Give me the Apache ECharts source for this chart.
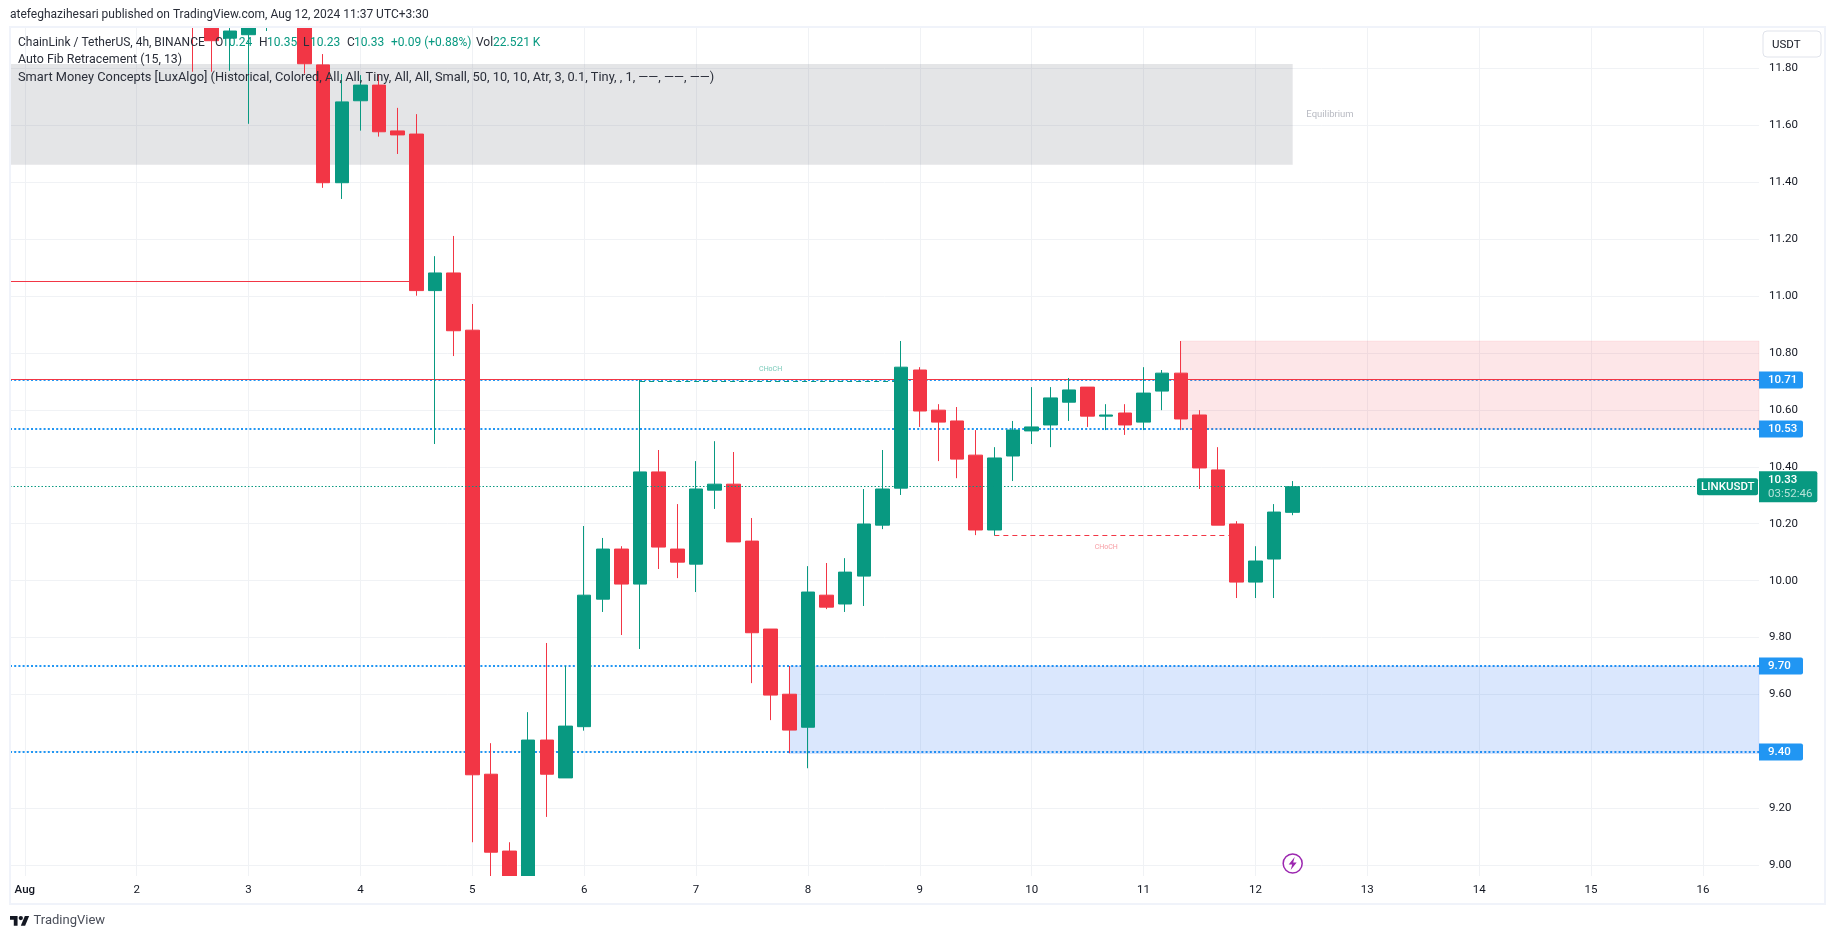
<!DOCTYPE html>
<html>
<head>
<meta charset="utf-8">
<title>LINKUSDT 4h</title>
<style>
  html, body { margin: 0; padding: 0; background: #fff; }
  #chart { width: 1835px; height: 939px; }
</style>
<script src="https://cdn.jsdelivr.net/npm/echarts@6/dist/echarts.min.js"></script>
</head>
<body>
<div id="chart"></div>
<script>
// one bar every 4h, index 0 is Aug 1 00:00, first bars here start at index 9
const firstBar = 9;
const opens = [12.25, 12.05, 11.906, 11.918, 12.0, 12.1, 12.2, 11.812, 11.398, 11.686, 11.741, 11.58, 11.569, 11.019, 11.081, 10.88,
  9.32, 9.05, 8.9, 9.44, 9.307, 9.487, 9.935, 10.111, 9.988, 10.382, 10.111, 10.058, 10.318, 10.339, 10.139, 9.83, 9.601, 9.485,
  9.949, 9.918, 10.016, 10.195, 10.325, 10.74, 10.599, 10.561, 10.441, 10.178, 10.438, 10.526, 10.547, 10.627, 10.68, 10.578,
  10.589, 10.557, 10.666, 10.729, 10.582, 10.389, 10.199, 9.995, 10.076, 10.24];
const closes = [12.05, 11.897, 11.931, 12.0, 12.1, 12.0, 11.816, 11.398, 11.682, 11.741, 11.577, 11.566, 11.019, 11.081, 10.878, 9.318,
  9.046, 8.9, 9.44, 9.32, 9.489, 9.949, 10.111, 9.988, 10.382, 10.118, 10.065, 10.322, 10.339, 10.136, 9.817, 9.598, 9.475, 9.96,
  9.907, 10.03, 10.199, 10.322, 10.75, 10.596, 10.557, 10.427, 10.178, 10.431, 10.529, 10.54, 10.642, 10.67, 10.578, 10.582,
  10.547, 10.659, 10.729, 10.568, 10.396, 10.195, 9.995, 10.069, 10.241, 10.33];
const lows = [11.788, 11.788, 11.791, 11.605, 11.931, 11.96, 11.781, 11.38, 11.341, 11.581, 11.56, 11.499, 11.001, 10.48, 10.789, 9.081,
  8.9, 8.89, 8.89, 9.17, 9.307, 9.473, 9.89, 9.809, 9.76, 10.041, 10.009, 9.96, 10.252, 10.136, 9.64, 9.51, 9.394, 9.341,
  9.9, 9.89, 9.911, 10.181, 10.301, 10.54, 10.42, 10.36, 10.16, 10.159, 10.35, 10.48, 10.469, 10.561, 10.54, 10.529,
  10.512, 10.529, 10.599, 10.529, 10.322, 10.195, 9.939, 9.939, 9.939, 10.23];
const highs = [12.3, 12.1, 12.0, 12.1, 12.2, 12.2, 12.3, 11.85, 11.78, 11.776, 11.78, 11.661, 11.639, 11.14, 11.211, 10.972,
  9.429, 9.081, 9.538, 9.781, 9.7, 10.192, 10.15, 10.121, 10.705, 10.459, 10.269, 10.42, 10.49, 10.452, 10.22, 9.83, 9.7, 10.051,
  10.062, 10.079, 10.322, 10.459, 10.842, 10.75, 10.62, 10.61, 10.529, 10.469, 10.561, 10.68, 10.68, 10.712, 10.68, 10.62,
  10.62, 10.75, 10.74, 10.842, 10.599, 10.469, 10.209, 10.121, 10.269, 10.35];

const dayTicks = [0, 6, 12, 18, 24, 30, 36, 42, 48, 54, 60, 66, 72, 78, 84, 90];
const dayLabels = ['Aug', '2', '3', '4', '5', '6', '7', '8', '9', '10', '11', '12', '13', '14', '15', '16'];
const priceTicks = [9.0, 9.2, 9.4, 9.6, 9.8, 10.0, 10.2, 10.4, 10.6, 10.8, 11.0, 11.2, 11.4, 11.6, 11.8];
const blueLevels = [10.705, 10.533, 9.7, 9.398];
const blueTags = ['10.71', '10.53', '9.70', '9.40'];
const lastClose = 10.33;

const xMin = -0.794, xMax = 93.01;
const yMin = 8.9624, yMax = 11.9416;
const GREEN = '#089981', RED = '#f23645', BLUE = '#2196f3', TEXT = '#131722';
const FONT = 'Roboto, sans-serif';

let candles = opens.map((o, i) => [firstBar + i, o, closes[i], lows[i], highs[i]]);

function blueLines() {
  return blueLevels.map((p, i) => [
    {
      coord: [xMin, p],
      label: {
        show: true, position: 'end', distance: 0, formatter: blueTags[i],
        backgroundColor: BLUE, color: '#fff', fontFamily: FONT, fontSize: 11.5, fontWeight: 500,
        padding: [3, 5, 2, 9], borderRadius: [0, 2, 2, 0], align: 'left', width: 30
      }
    },
    { coord: [xMax, p] }
  ]);
}

function hline(x1, x2, p, color, type) {
  return [{ coord: [x1, p], lineStyle: { color: color, width: 1, type: type } }, { coord: [x2, p] }];
}

function emptyLine(extra) {
  return Object.assign({ type: 'line', data: [], silent: true, animation: false }, extra);
}

let option = {
  animation: false,
  backgroundColor: '#fff',
  grid: { left: 10, right: 76, top: 28, bottom: 63 },
  xAxis: [
    {
      // gridlines only
      type: 'value', min: xMin, max: xMax, z: 0,
      axisLine: { show: false },
      axisTick: { show: false, customValues: dayTicks },
      splitLine: { show: true, lineStyle: { color: '#f0f2f5', width: 1 } },
      axisLabel: { show: false }
    },
    {
      // labels, above the strip that hides candle overflow
      type: 'value', min: xMin, max: xMax, z: 12, position: 'bottom',
      axisLine: { show: false },
      axisTick: { show: false, customValues: dayTicks },
      splitLine: { show: false },
      axisLabel: {
        customValues: dayTicks, margin: 8, color: TEXT, fontFamily: FONT, fontSize: 11.5,
        formatter: v => (v === 0 ? '{b|Aug}' : dayLabels[dayTicks.indexOf(v)]),
        rich: { b: { color: TEXT, fontFamily: FONT, fontSize: 11.5, fontWeight: 500 } }
      }
    }
  ],
  yAxis: {
    type: 'value', position: 'right', min: yMin, max: yMax, scale: true,
    axisLine: { show: false },
    axisTick: { show: false, customValues: priceTicks },
    splitLine: { show: true, lineStyle: { color: '#f0f2f5', width: 1 } },
    axisLabel: {
      customValues: priceTicks, margin: 10, color: TEXT, fontFamily: FONT, fontSize: 11.5,
      padding: [2, 0, 0, 0],
      formatter: v => v.toFixed(2)
    }
  },
  series: [
    // dotted levels and red lines, below the boxes
    emptyLine({
      z: 1,
      markLine: {
        z: 1, silent: true, symbol: 'none', animation: false,
        lineStyle: { color: BLUE, width: 2, type: [2, 2.2] },
        label: { show: false },
        data: blueLines().concat([
          hline(xMin, xMax, 10.708, RED, 'solid'),
          hline(xMin, 21, 11.052, RED, 'solid'),
          hline(33, 47, 10.701, GREEN, [5, 4]),
          hline(52, 65, 10.159, RED, [5, 4])
        ])
      }
    }),
    emptyLine({
      z: 2,
      markArea: {
        z: 2, silent: true, animation: false,
        data: [
          [{ coord: [xMin, 11.815], itemStyle: { color: 'rgba(120,123,134,0.2)' } }, { coord: [68, 11.461] }],
          [{ coord: [62, 10.842], itemStyle: { color: 'rgba(242,54,69,0.125)', borderColor: 'rgba(242,54,69,0.08)', borderWidth: 1 } }, { coord: [xMax, 10.532] }],
          [{ coord: [41, 9.7], itemStyle: { color: 'rgba(33,110,243,0.17)', borderColor: 'rgba(33,110,243,0.12)', borderWidth: 1 } }, { coord: [xMax, 9.393] }]
        ]
      }
    }),
    {
      type: 'candlestick', z: 3, barWidth: 14, clip: true, silent: true,
      encode: { x: 0, y: [1, 2, 3, 4] },
      itemStyle: { color: GREEN, color0: RED, borderColor: GREEN, borderColor0: RED, borderWidth: 1 },
      data: candles
    },
    // last price line sits over the candles
    emptyLine({
      z: 4,
      markLine: {
        z: 4, silent: true, symbol: 'none', animation: false,
        lineStyle: { color: GREEN, width: 1, type: [1.5, 2] },
        label: { show: false },
        data: [[
          {
            coord: [xMin, lastClose],
            label: {
              show: true, position: 'end', distance: 0,
              formatter: '{a|10.33}\n{b|03:52:46}',
              backgroundColor: GREEN, padding: [2, 5, 1, 9], borderRadius: [0, 2, 2, 0], align: 'left',
              rich: {
                a: { color: '#fff', fontFamily: FONT, fontSize: 11.5, fontWeight: 500, lineHeight: 14 },
                b: { color: '#b5e3d9', fontFamily: FONT, fontSize: 11.5, lineHeight: 14 }
              }
            }
          },
          { coord: [xMax, lastClose] }
        ]]
      }
    }),
    // small texts pinned to the price scale
    {
      type: 'scatter', z: 5, symbolSize: 0, silent: true,
      data: [
        { value: [40, 10.742], label: { formatter: 'CHoCH', color: '#52bba6' } },
        { value: [58, 10.117], label: { formatter: 'CHoCH', color: '#f5838c' } },
        { value: [70, 11.636], label: { formatter: 'Equilibrium', color: '#a6a9b3', fontSize: 9.5 } }
      ],
      label: { show: true, position: 'inside', fontFamily: FONT, fontSize: 7 }
    }
  ]
};

let chart = echarts.init(document.getElementById('chart'));
chart.setOption(option);

function txt(x, y, str, fill, size, extra) {
  return {
    type: 'text', z: 20,
    style: Object.assign({ x: x, y: y, text: str, fill: fill, font: (size || 12) + 'px ' + FONT, textVerticalAlign: 'middle' }, extra || {})
  };
}

// tags and chrome around the plot
let lastY = chart.convertToPixel({ yAxisIndex: 0 }, lastClose);
let boltX = chart.convertToPixel({ xAxisIndex: 0 }, 68);
let dark = '#2a2e39';
const logoScale = 0.54;
chart.setOption({
  graphic: [
    // candlesticks only drop fully clipped bars, so cover what pokes out of the pane
    { type: 'rect', z: 8, shape: { x: 0, y: 0, width: 1835, height: 27 }, style: { fill: '#fff' } },
    { type: 'rect', z: 8, shape: { x: 11, y: 876, width: 1748, height: 27 }, style: { fill: '#fff' } },
    { type: 'rect', z: 10, shape: { x: 10, y: 27, width: 1815, height: 877 }, style: { fill: 'none', stroke: '#f0f3fa', lineWidth: 2 } },
    txt(10, 15, 'atefeghazihesari published on TradingView.com, Aug 12, 2024 11:37 UTC+3:30', dark, 12),
    txt(18, 42.5, 'ChainLink / TetherUS, 4h, BINANCE', dark),
    txt(215, 42.5, 'O', dark), txt(222, 42.5, '10.24', GREEN),
    txt(259, 42.5, 'H', dark), txt(267, 42.5, '10.35', GREEN),
    txt(303, 42.5, 'L', dark), txt(310, 42.5, '10.23', GREEN),
    txt(347, 42.5, 'C', dark), txt(354, 42.5, '10.33', GREEN),
    txt(391, 42.5, '+0.09 (+0.88%)', GREEN),
    txt(476, 42.5, 'Vol', dark), txt(493, 42.5, '22.521 K', GREEN),
    txt(18, 60, 'Auto Fib Retracement (15, 13)', dark, 12.4),
    txt(18, 77.5, 'Smart Money Concepts [LuxAlgo] (Historical, Colored, All, All, Tiny, All, All, Small, 50, 10, 10, Atr, 3, 0.1, Tiny, , 1, \u2014\u2014, \u2014\u2014, \u2014\u2014)', dark, 12.8),
    { type: 'rect', z: 20, shape: { x: 1763, y: 31, width: 58, height: 26, r: 4 }, style: { fill: '#fff', stroke: '#e0e3eb', lineWidth: 1 } },
    txt(1772, 45, 'USDT', TEXT, 11.5),
    { type: 'rect', z: 20, shape: { x: 1697, y: lastY - 8.5, width: 61, height: 17, r: 2 }, style: { fill: GREEN } },
    txt(1701, lastY + 0.5, 'LINKUSDT', '#fff', 12, { font: '500 11.5px ' + FONT }),
    { type: 'circle', z: 20, shape: { cx: boltX, cy: 863.5, r: 9.5 }, style: { fill: '#fff', stroke: '#9c27b0', lineWidth: 1.5 } },
    { type: 'polygon', z: 21, shape: { points: [[boltX + 2, 857], [boltX - 4, 864.5], [boltX - 0.5, 864.5], [boltX - 2, 870], [boltX + 4, 862.5], [boltX + 0.5, 862.5]] }, style: { fill: '#9c27b0' } },
    { type: 'polygon', z: 20, x: 10, y: 913.8, scaleX: logoScale, scaleY: logoScale, shape: { points: [[0, 4], [14, 4], [14, 22], [7, 22], [7, 11], [0, 11]] }, style: { fill: '#131722' } },
    { type: 'polygon', z: 20, x: 10, y: 913.8, scaleX: logoScale, scaleY: logoScale, shape: { points: [[28, 22], [20, 22], [27.5, 4], [35.5, 4]] }, style: { fill: '#131722' } },
    { type: 'circle', z: 20, x: 10, y: 913.8, scaleX: logoScale, scaleY: logoScale, shape: { cx: 20, cy: 8, r: 4 }, style: { fill: '#131722' } },
    txt(33.5, 921, 'TradingView', '#4a4e59', 13)
  ]
});
</script>
</body>
</html>
